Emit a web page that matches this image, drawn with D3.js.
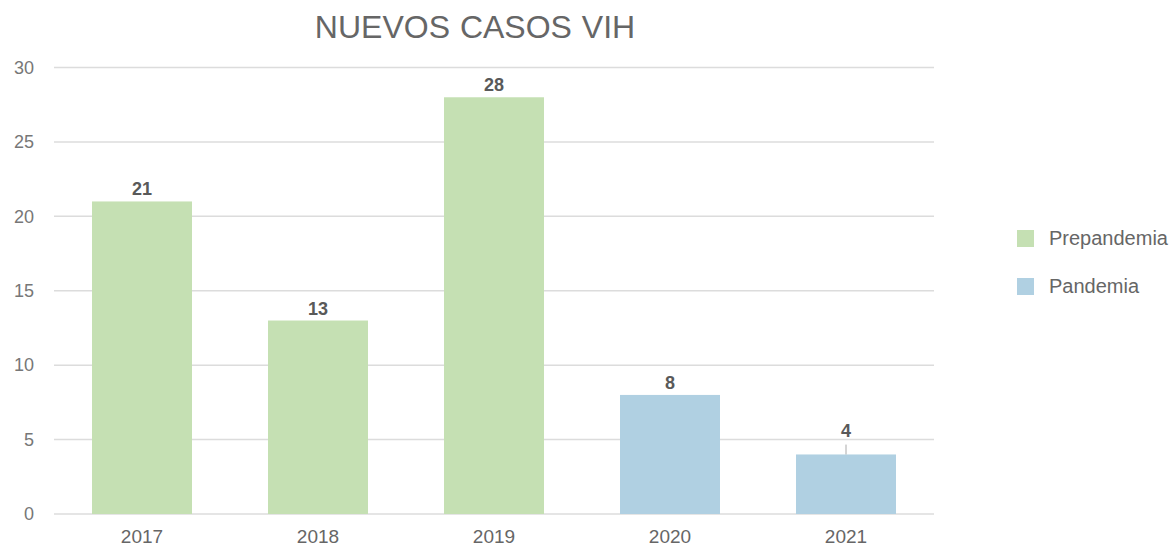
<!DOCTYPE html>
<html>
<head>
<meta charset="utf-8">
<script src="https://cdn.jsdelivr.net/npm/d3@7"></script>
<style>
  body { margin: 0; background: #fff; }
  text { font-family: "Liberation Sans", Arial, sans-serif; }
</style>
</head>
<body>
<svg id="chart" width="1176" height="548"></svg>
<script>
const years = ["2017", "2018", "2019", "2020", "2021"];
const cases = [21, 13, 28, 8, 4];
const periods = ["Prepandemia", "Prepandemia", "Prepandemia", "Pandemia", "Pandemia"];
const legendItems = ["Prepandemia", "Pandemia"];
const yTicks = [0, 5, 10, 15, 20, 25, 30];

const colors = { Prepandemia: "#c5e0b3", Pandemia: "#b0d0e2" };

const svg = d3.select("#chart");

const x = d3.scaleBand()
  .domain(years)
  .range([54, 934])
  .paddingInner(0.432)
  .paddingOuter(0.216);

const y = d3.scaleLinear().domain([0, 30]).range([514, 67.5]);

// title
svg.append("text")
  .attr("x", 475)
  .attr("y", 38)
  .attr("text-anchor", "middle")
  .style("font-size", "32px")
  .style("word-spacing", "1px")
  .style("fill", "#666")
  .text("NUEVOS CASOS VIH");

// gridlines
svg.append("g")
  .selectAll("line")
  .data(yTicks)
  .enter()
  .append("line")
  .attr("x1", 54)
  .attr("x2", 934)
  .attr("y1", (d) => y(d))
  .attr("y2", (d) => y(d))
  .style("stroke", "#dcdcdc")
  .style("stroke-width", 1.5);

// y axis labels
const yAxis = svg.append("g")
  .attr("transform", "translate(34,0)")
  .call(d3.axisLeft(y).tickValues(yTicks).tickSize(0).tickPadding(0));
yAxis.select(".domain").remove();
yAxis.selectAll("text")
  .style("font-size", "18px")
  .style("fill", "#777")
  .style("font-family", "'Liberation Sans', Arial, sans-serif");

// x axis labels
const xAxis = svg.append("g")
  .attr("transform", "translate(0,514)")
  .call(d3.axisBottom(x).tickSize(0).tickPadding(16));
xAxis.select(".domain").remove();
xAxis.selectAll("text")
  .style("font-size", "19px")
  .style("fill", "#666")
  .style("font-family", "'Liberation Sans', Arial, sans-serif");

const data = years.map((yr, i) => ({ year: yr, value: cases[i], period: periods[i] }));

// bars
svg.append("g")
  .selectAll("rect")
  .data(data)
  .enter()
  .append("rect")
  .attr("x", (d) => x(d.year))
  .attr("y", (d) => y(d.value))
  .attr("width", x.bandwidth())
  .attr("height", (d) => y(0) - y(d.value))
  .style("fill", (d) => colors[d.period]);

// value labels; lift above a gridline with a leader if they'd collide
const labelH = 14;
data.forEach((d) => {
  const cx = x(d.year) + x.bandwidth() / 2;
  let base = y(d.value) - 6;
  const hit = yTicks.find((t) => y(t) < base && y(t) > base - labelH);
  if (hit !== undefined) {
    base = y(hit) - 3;
    svg.append("line")
      .attr("x1", cx).attr("x2", cx)
      .attr("y1", base + 8).attr("y2", y(d.value))
      .style("stroke", "#aaa")
      .style("stroke-width", 1);
  }
  svg.append("text")
    .attr("x", cx)
    .attr("y", base)
    .attr("text-anchor", "middle")
    .style("font-size", "18px")
    .style("font-weight", "bold")
    .style("fill", "#595959")
    .text(d.value);
});

// legend
const legend = svg.append("g")
  .selectAll("g")
  .data(legendItems)
  .enter()
  .append("g")
  .attr("transform", (d, i) => "translate(1017," + (230 + i * 48) + ")");
legend.append("rect")
  .attr("width", 17)
  .attr("height", 17)
  .style("fill", (d) => colors[d]);
legend.append("text")
  .attr("x", 32)
  .attr("y", 14.5)
  .style("font-size", "20px")
  .style("fill", "#666")
  .text((d) => d);
</script>
</body>
</html>
